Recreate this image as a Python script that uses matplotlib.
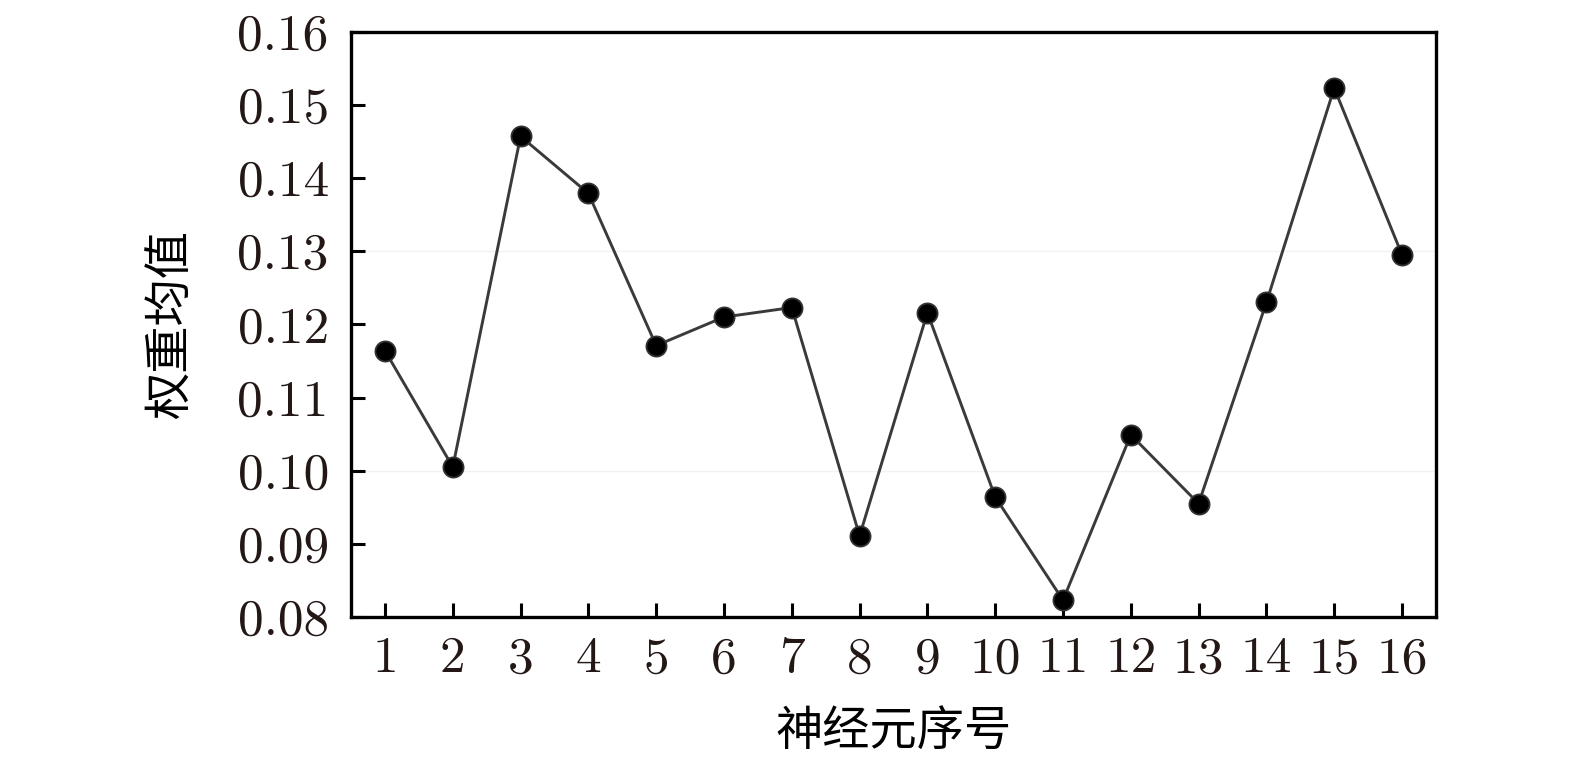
import numpy as np
import matplotlib.pyplot as plt

# 神经元序号 / 权重均值
neurons = np.arange(1, 17)
weights = [0.1164, 0.1005, 0.1457, 0.1379, 0.1171, 0.1210, 0.1223, 0.0911,
           0.1216, 0.0964, 0.0823, 0.1049, 0.0955, 0.1230, 0.1523, 0.1295]
yticks = [0.08, 0.09, 0.10, 0.11, 0.12, 0.13, 0.14, 0.15, 0.16]
ytick_labels = ['0.08', '0.09', '0.10', '0.11', '0.12', '0.13', '0.14', '0.15', '0.16']

txt_color = '#231815'
num_font = 'cmr10'
cjk_font = ['Noto Sans CJK SC', 'DejaVu Sans']

fig = plt.figure(figsize=(15.75, 7.68), dpi=100)
ax = fig.add_axes([0.2229, 0.1966, 0.9117 - 0.2229, 0.9587 - 0.1966])

# 很淡的横线 (原图里的痕迹)
for yv in [0.10, 0.13]:
    ax.axhline(yv, color='#f2f2f2', lw=1, zorder=0)

ax.plot(neurons, weights, color='#3a3a3a', lw=2.1,
        marker='o', markersize=14.5, markerfacecolor='black',
        markeredgecolor='#333333', markeredgewidth=1.3)

ax.set_xlim(0.5, 16.5)
ax.set_ylim(0.08, 0.16)
ax.set_xticks(neurons)
ax.set_xticklabels([str(n) for n in neurons], fontfamily=num_font,
                   fontsize=37, color=txt_color)
ax.set_yticks(yticks)
ax.set_yticklabels(ytick_labels, fontfamily=num_font, fontsize=37, color=txt_color)

ax.tick_params(axis='both', direction='in', length=10, width=2.2,
               top=False, right=False)
ax.tick_params(axis='x', pad=14)
ax.tick_params(axis='y', pad=16)

for sp in ax.spines.values():
    sp.set_linewidth(2.4)

ax.set_xlabel('神经元序号', fontfamily=cjk_font, fontsize=34, color='black', labelpad=18)
ax.set_ylabel('权重均值', fontfamily=cjk_font, fontsize=34, color='black', labelpad=30)

fig.savefig('out.png', dpi=100)
